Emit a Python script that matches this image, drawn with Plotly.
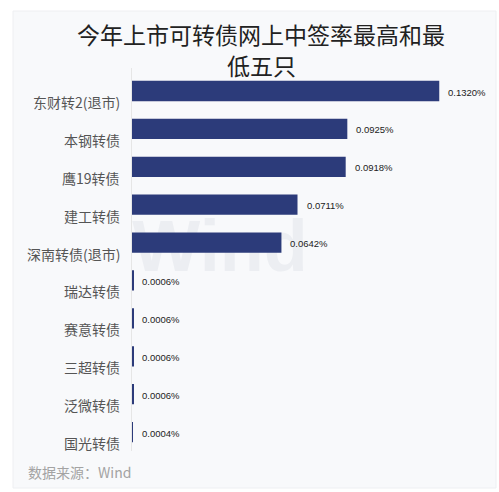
import plotly.graph_objects as go

categories = ["东财转2(退市)", "本钢转债", "鹰19转债", "建工转债", "深南转债(退市)",
              "瑞达转债", "赛意转债", "三超转债", "泛微转债", "国光转债"]
values = [0.1320, 0.0925, 0.0918, 0.0711, 0.0642, 0.0006, 0.0006, 0.0006, 0.0006, 0.0004]
value_labels = ["0.1320%", "0.0925%", "0.0918%", "0.0711%", "0.0642%",
                "0.0006%", "0.0006%", "0.0006%", "0.0006%", "0.0004%"]
title_lines = ["今年上市可转债网上中签率最高和最", "低五只"]
source_text = "数据来源：Wind"

W, H = 499, 492
L, R, T, B = 132, 19, 68, 41
PW, PH = W - L - R, H - T - B
CJK = "Noto Sans CJK SC"


def px(x):
    return (x - L) / PW


def py(y):
    return 1 - (y - T) / PH


fig = go.Figure(go.Bar(
    y=categories, x=values, orientation="h",
    marker=dict(color="#2c3b7a", line=dict(width=0)),
    hoverinfo="skip",
))

annotations = []
for c, v, t in zip(categories, values, value_labels):
    annotations.append(dict(x=v, y=c, xref="x", yref="y", text=t, showarrow=False,
                            xanchor="left", yanchor="middle", xshift=7, yshift=-1,
                            font=dict(family="Liberation Sans", size=9.5, color="#222222")))
    annotations.append(dict(x=0, y=c, xref="paper", yref="y", text=c, showarrow=False,
                            xanchor="right", yanchor="middle", xshift=-10, yshift=-11,
                            font=dict(family=CJK, size=14, color="#555555")))

# title (two lines)
for line, yc in zip(title_lines, [34, 65]):
    annotations.append(dict(x=px(261), y=py(yc), xref="paper", yref="paper", text=line,
                            showarrow=False, xanchor="center", yanchor="middle", borderpad=0,
                            font=dict(family=CJK, size=23, color="#222222")))
# source
annotations.append(dict(x=px(26), y=py(472), xref="paper", yref="paper", text=source_text,
                        showarrow=False, xanchor="left", yanchor="middle",
                        font=dict(family=CJK, size=14, color="#a3a3a3")))

shapes = [
    dict(type="rect", xref="paper", yref="paper", layer="below",
         x0=px(13), x1=px(496), y0=py(488), y1=py(11),
         fillcolor="#f8f9fb", line=dict(color="#eeeff2", width=1)),
    dict(type="rect", xref="paper", yref="paper", layer="below",
         x0=px(120), x1=px(320), y0=py(270), y1=py(208),
         fillcolor="rgba(0,0,0,0)", line=dict(width=0),
         label=dict(text="Wind", textposition="middle center",
                    font=dict(family="Liberation Sans", size=72, color="#eceef2", weight="bold"))),
]

fig.update_layout(
    width=W, height=H,
    margin=dict(l=L, r=R, t=T, b=B),
    paper_bgcolor="#ffffff",
    plot_bgcolor="rgba(0,0,0,0)",
    bargap=0.465,
    showlegend=False,
    xaxis=dict(range=[0, 0.1495], visible=False, fixedrange=True),
    yaxis=dict(categoryorder="array", categoryarray=categories, autorange="reversed",
               showticklabels=False, showgrid=False, zeroline=False,
               showline=True, linecolor="#e6e6e6", linewidth=1, ticks="", fixedrange=True),
    shapes=shapes,
    annotations=annotations,
)

fig.write_html("out.html", config={"displayModeBar": False})

with open("out.html", "r", encoding="utf-8") as f:
    html = f.read()
html = html.replace("<head>", "<head><style>html,body{margin:0;padding:0;overflow:hidden;}</style>", 1)
with open("out.html", "w", encoding="utf-8") as f:
    f.write(html)
